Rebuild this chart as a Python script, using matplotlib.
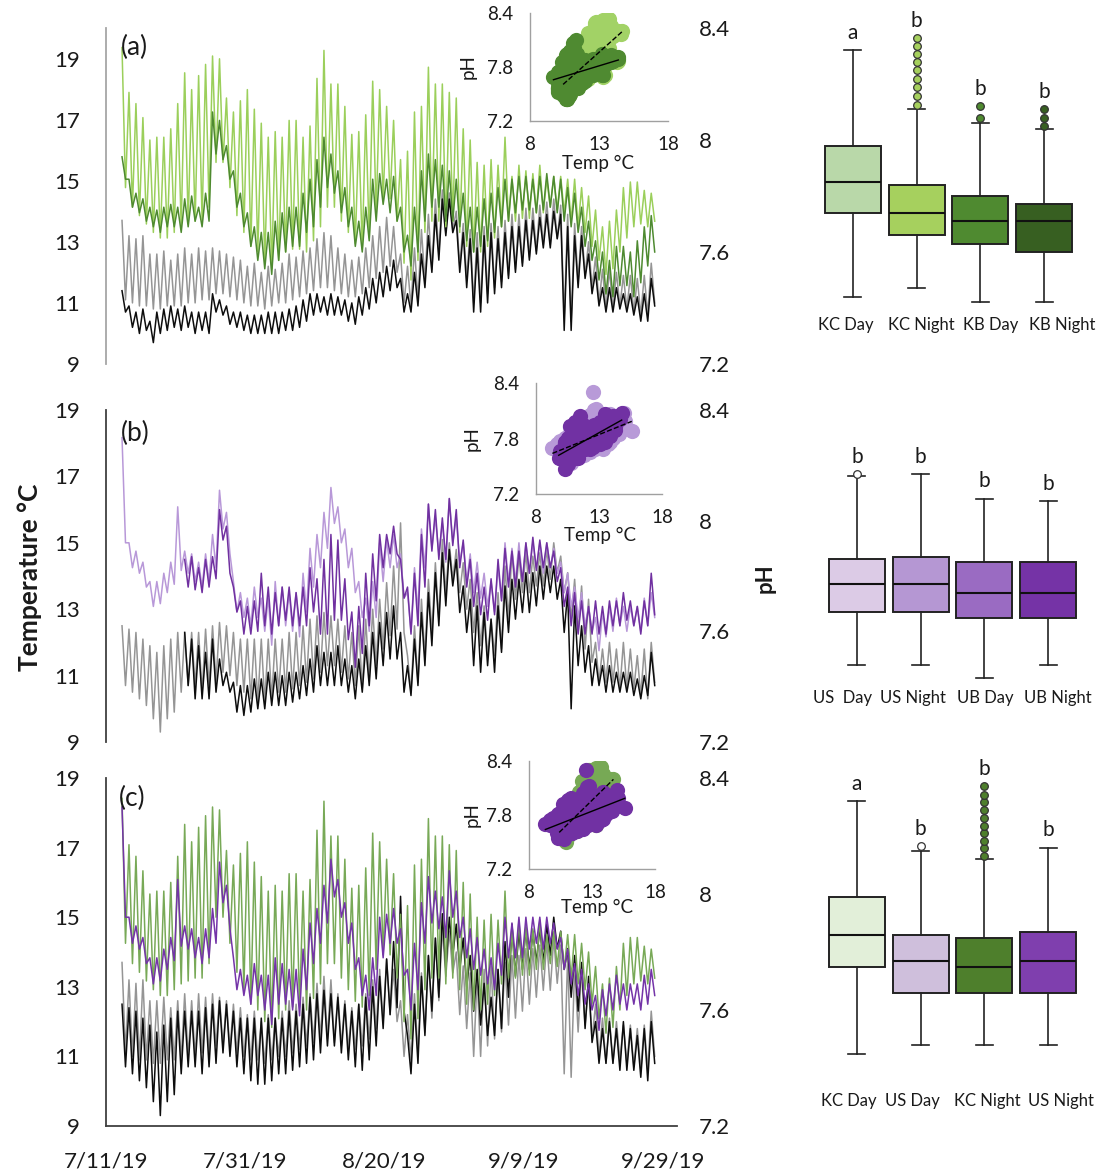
import numpy as np
import pandas as pd
import matplotlib
matplotlib.use('Agg')
import matplotlib.pyplot as plt
import matplotlib.dates as mdates

plt.rcParams['font.family'] = ['Lato', 'DejaVu Sans']

W, H = 1104, 1176

# ---- daily high / low ----
first_day = '2019-07-13'     # KC, KB and US loggers
ub_first_day = '2019-07-22'  # UB logger starts later

kc_ph_hi = [8.33, 8.17, 8.13, 8.08, 8.00, 8.01, 8.01, 8.04, 8.13, 8.24,
            8.18, 8.23, 8.27, 8.30, 8.29, 8.15, 8.10, 8.14, 8.18, 8.11,
            8.06, 8.01, 8.03, 8.01, 8.07, 8.07, 8.01, 8.05, 8.22, 8.32,
            8.20, 8.20, 8.12, 8.02, 8.03, 8.09, 8.21, 8.18, 8.12, 8.07,
            7.93, 7.96, 8.10, 8.12, 8.26, 8.20, 8.20, 8.17, 8.15, 8.04,
            8.00, 7.92, 7.91, 7.93, 7.91, 8.01, 7.87, 7.91, 7.89, 7.88,
            7.91, 7.86, 7.87, 7.87, 7.86, 7.86, 7.83, 7.80, 7.75, 7.69,
            7.71, 7.75, 7.83, 7.85, 7.85, 7.82, 7.81]
kc_ph_lo = [7.83, 7.76, 7.73, 7.70, 7.67, 7.65, 7.65, 7.67, 7.69, 7.70,
            7.71, 7.71, 7.76, 7.92, 7.92, 7.83, 7.73, 7.67, 7.62, 7.60,
            7.56, 7.54, 7.57, 7.60, 7.61, 7.61, 7.60, 7.64, 7.69, 7.76,
            7.76, 7.71, 7.67, 7.63, 7.61, 7.65, 7.74, 7.79, 7.79, 7.71,
            7.56, 7.50, 7.57, 7.67, 7.71, 7.71, 7.69, 7.71, 7.67, 7.62,
            7.60, 7.60, 7.62, 7.65, 7.69, 7.71, 7.71, 7.72, 7.72, 7.74,
            7.74, 7.76, 7.75, 7.74, 7.71, 7.69, 7.67, 7.62, 7.57, 7.52,
            7.54, 7.60, 7.65, 7.69, 7.70, 7.69, 7.71]
kb_ph_hi = [7.94, 7.86, 7.81, 7.79, 7.76, 7.75, 7.76, 7.77, 7.76, 7.79,
            7.80, 7.76, 7.81, 8.10, 8.07, 7.98, 7.89, 7.81, 7.74, 7.69,
            7.67, 7.67, 7.71, 7.74, 7.76, 7.76, 7.81, 7.86, 7.93, 8.01,
            7.95, 7.89, 7.83, 7.76, 7.71, 7.76, 7.86, 7.88, 7.86, 7.87,
            7.76, 7.66, 7.76, 7.89, 7.95, 7.93, 7.91, 7.89, 7.86, 7.81,
            7.76, 7.76, 7.79, 7.81, 7.83, 7.86, 7.86, 7.87, 7.87, 7.86,
            7.87, 7.88, 7.87, 7.86, 7.83, 7.81, 7.76, 7.71, 7.64, 7.60,
            7.57, 7.62, 7.62, 7.60, 7.64, 7.69, 7.73]
kb_ph_lo = [7.86, 7.76, 7.74, 7.71, 7.69, 7.67, 7.69, 7.69, 7.67, 7.69,
            7.71, 7.69, 7.71, 7.95, 7.93, 7.86, 7.76, 7.69, 7.62, 7.57,
            7.54, 7.52, 7.57, 7.60, 7.62, 7.62, 7.67, 7.69, 7.76, 7.83,
            7.81, 7.74, 7.69, 7.62, 7.60, 7.64, 7.71, 7.77, 7.74, 7.71,
            7.60, 7.55, 7.60, 7.71, 7.76, 7.76, 7.71, 7.71, 7.69, 7.64,
            7.60, 7.62, 7.64, 7.67, 7.69, 7.71, 7.74, 7.75, 7.75, 7.74,
            7.75, 7.76, 7.74, 7.71, 7.69, 7.67, 7.62, 7.57, 7.50, 7.45,
            7.44, 7.48, 7.48, 7.44, 7.49, 7.55, 7.60]
us_ph_hi = [8.30, 7.92, 7.89, 7.85, 7.78, 7.78, 7.81, 7.85, 8.05, 7.89,
            7.88, 7.85, 7.88, 7.95, 8.11, 8.03, 7.78, 7.74, 7.72, 7.76,
            7.72, 7.72, 7.78, 7.76, 7.74, 7.74, 7.81, 7.90, 7.95, 8.03,
            8.12, 8.05, 7.97, 7.90, 7.78, 7.72, 7.78, 7.92, 7.93, 7.95,
            7.88, 7.74, 7.83, 7.97, 8.06, 8.01, 7.99, 8.08, 8.01, 7.92,
            7.88, 7.85, 7.81, 7.78, 7.83, 7.92, 7.90, 7.92, 7.92, 7.92,
            7.92, 7.92, 7.90, 7.85, 7.81, 7.76, 7.74, 7.69, 7.65, 7.67,
            7.69, 7.72, 7.69, 7.69, 7.69, 7.72, 7.74]
us_ph_lo = [7.92, 7.83, 7.81, 7.76, 7.69, 7.70, 7.74, 7.77, 7.82, 7.81,
            7.78, 7.76, 7.78, 7.83, 7.97, 7.88, 7.67, 7.65, 7.62, 7.65,
            7.60, 7.55, 7.62, 7.62, 7.60, 7.58, 7.67, 7.76, 7.83, 7.90,
            7.99, 7.92, 7.83, 7.74, 7.65, 7.60, 7.65, 7.78, 7.83, 7.83,
            7.72, 7.60, 7.67, 7.83, 7.90, 7.88, 7.85, 7.92, 7.85, 7.78,
            7.74, 7.72, 7.69, 7.67, 7.72, 7.78, 7.78, 7.78, 7.81, 7.83,
            7.81, 7.83, 7.81, 7.74, 7.69, 7.65, 7.62, 7.60, 7.53, 7.58,
            7.60, 7.62, 7.60, 7.62, 7.60, 7.62, 7.65]
ub_ph_hi = [7.86, 7.87, 7.83, 7.86, 7.87, 8.04, 7.98, 7.76, 7.71, 7.69,
            7.71, 7.81, 7.76, 7.74, 7.76, 7.76, 7.74, 7.76, 7.83, 7.79,
            7.86, 7.95, 7.93, 7.79, 7.67, 7.69, 7.81, 7.88, 7.95, 7.95,
            7.98, 7.86, 7.76, 7.81, 7.95, 8.06, 8.04, 8.01, 8.08, 8.04,
            7.93, 7.86, 7.81, 7.76, 7.79, 7.86, 7.90, 7.89, 7.89, 7.92,
            7.94, 7.93, 7.92, 7.89, 7.83, 7.76, 7.74, 7.71, 7.69, 7.71,
            7.69, 7.71, 7.71, 7.74, 7.71, 7.69, 7.71, 7.81]
ub_ph_lo = [7.76, 7.75, 7.74, 7.76, 7.79, 7.93, 7.81, 7.67, 7.59, 7.59,
            7.60, 7.62, 7.59, 7.62, 7.64, 7.62, 7.62, 7.62, 7.67, 7.59,
            7.59, 7.64, 7.64, 7.57, 7.47, 7.52, 7.62, 7.71, 7.83, 7.88,
            7.88, 7.72, 7.59, 7.62, 7.76, 7.89, 7.86, 7.86, 7.91, 7.83,
            7.76, 7.69, 7.66, 7.64, 7.66, 7.71, 7.76, 7.76, 7.78, 7.81,
            7.82, 7.83, 7.83, 7.78, 7.69, 7.62, 7.59, 7.59, 7.59, 7.59,
            7.59, 7.62, 7.62, 7.64, 7.62, 7.59, 7.62, 7.66]

kc_t_hi = [13.7, 13.2, 13.1, 13.2, 12.6, 12.6, 12.7, 12.4, 12.6, 12.8,
           12.6, 12.8, 12.7, 12.8, 12.7, 12.6, 12.5, 12.4, 12.2, 12.3,
           12.0, 12.2, 12.1, 12.3, 12.6, 12.5, 12.7, 12.8, 13.1, 13.3,
           13.2, 12.8, 12.6, 12.4, 12.5, 12.8, 13.2, 13.5, 13.8, 13.5,
           12.6, 12.2, 12.8, 13.4, 13.9, 14.4, 14.7, 14.6, 14.0, 13.6,
           13.4, 13.3, 13.5, 13.6, 13.5, 13.7, 13.9, 13.9, 14.1, 14.1,
           14.2, 14.3, 14.4, 14.2, 13.9, 13.6, 13.5, 13.0, 12.5, 12.1,
           12.1, 12.0, 11.9, 11.9, 11.8, 11.9, 12.3]
kc_t_lo = [11.1, 11.0, 10.9, 10.9, 10.8, 10.8, 10.9, 10.9, 10.9, 11.0,
           11.0, 11.1, 11.1, 11.3, 11.3, 11.2, 11.1, 11.0, 10.9, 10.9,
           10.8, 10.9, 11.0, 11.0, 11.1, 11.2, 11.3, 11.4, 11.5, 11.5,
           11.4, 11.3, 11.2, 11.2, 11.3, 11.5, 11.8, 12.0, 12.2, 12.0,
           11.0, 10.9, 11.1, 11.7, 12.1, 12.6, 13.3, 13.4, 12.2, 11.8,
           11.0, 11.0, 11.3, 11.5, 11.7, 11.9, 12.1, 12.3, 12.5, 12.7,
           12.9, 12.9, 13.1, 10.5, 10.4, 11.7, 11.9, 11.5, 11.0, 10.8,
           10.8, 10.9, 10.8, 10.7, 10.6, 10.6, 11.0]
kb_t_hi = [11.4, 10.9, 10.7, 10.8, 10.4, 10.7, 10.8, 10.9, 10.8, 10.9,
           10.7, 10.7, 10.7, 11.3, 11.1, 10.9, 10.7, 10.7, 10.6, 10.6,
           10.6, 10.7, 10.7, 10.7, 10.8, 10.9, 11.1, 11.3, 11.3, 11.2,
           11.3, 11.2, 11.1, 11.0, 11.2, 11.5, 11.8, 12.0, 12.2, 12.4,
           11.8, 11.3, 12.0, 12.6, 13.2, 13.9, 14.4, 14.4, 13.7, 13.3,
           13.1, 12.8, 13.2, 13.3, 13.1, 13.3, 13.5, 13.5, 13.7, 13.7,
           13.8, 13.9, 14.0, 13.9, 13.5, 13.2, 13.2, 12.6, 12.0, 11.5,
           11.5, 11.5, 11.3, 11.3, 11.2, 11.3, 11.8]
kb_t_lo = [10.7, 10.2, 10.0, 10.1, 9.7, 10.0, 10.1, 10.2, 10.1, 10.2,
           10.0, 10.1, 10.0, 10.7, 10.6, 10.3, 10.2, 10.1, 10.0, 10.0,
           10.0, 10.0, 10.0, 10.1, 10.1, 10.2, 10.4, 10.6, 10.7, 10.6,
           10.6, 10.6, 10.4, 10.3, 10.6, 10.8, 11.0, 11.2, 11.4, 11.5,
           10.7, 10.7, 10.9, 11.5, 12.0, 12.4, 13.2, 13.3, 12.0, 11.5,
           10.7, 10.7, 11.0, 11.3, 11.5, 11.8, 12.0, 12.2, 12.4, 12.6,
           12.8, 12.8, 13.1, 10.1, 10.1, 11.5, 11.8, 11.3, 10.9, 10.7,
           10.7, 10.8, 10.7, 10.6, 10.4, 10.4, 10.9]
us_t_hi = [12.5, 12.4, 12.3, 12.1, 11.9, 11.7, 11.9, 12.1, 12.3, 12.3,
           12.3, 12.3, 12.4, 12.5, 12.6, 12.5, 12.3, 12.1, 12.1, 12.1,
           12.1, 12.1, 12.1, 12.1, 12.3, 12.3, 12.5, 12.7, 12.8, 12.9,
           12.8, 12.7, 12.5, 12.3, 12.5, 12.7, 13.0, 13.3, 13.8, 14.3,
           15.6, 11.6, 12.5, 13.3, 13.9, 14.4, 15.1, 15.0, 14.8, 14.4,
           13.9, 13.5, 13.1, 12.7, 13.5, 14.3, 14.8, 14.6, 14.7, 14.6,
           14.7, 14.8, 15.0, 14.6, 14.1, 13.9, 13.7, 13.3, 12.0, 11.8,
           12.0, 11.8, 12.0, 11.8, 11.6, 11.8, 12.0]
us_t_lo = [10.7, 10.5, 10.3, 10.1, 9.7, 9.3, 9.7, 9.9, 10.5, 10.7,
           10.7, 10.5, 10.7, 10.8, 11.1, 11.0, 10.7, 10.5, 10.3, 10.2,
           10.2, 10.3, 10.5, 10.5, 10.6, 10.7, 10.8, 10.9, 11.1, 11.3,
           11.3, 11.1, 10.9, 10.7, 10.6, 10.9, 11.3, 11.8, 12.2, 12.4,
           12.3, 10.5, 10.8, 11.6, 12.3, 12.7, 13.5, 13.9, 13.5, 13.0,
           12.3, 11.9, 11.6, 11.6, 11.8, 12.7, 13.3, 13.5, 13.5, 13.7,
           13.7, 13.9, 14.1, 13.5, 12.7, 12.3, 11.8, 11.4, 10.8, 10.8,
           10.8, 10.6, 10.6, 10.6, 10.4, 10.3, 10.8]
ub_t_hi = [12.3, 12.1, 11.9, 11.7, 12.1, 11.5, 11.1, 10.8, 10.7, 10.7,
           10.9, 10.9, 11.1, 11.1, 11.0, 11.1, 11.1, 11.3, 11.5, 11.9,
           11.7, 11.7, 11.9, 11.5, 11.3, 11.5, 11.9, 12.3, 12.6, 12.9,
           13.1, 12.3, 11.3, 12.1, 12.9, 13.5, 14.1, 14.7, 14.8, 14.5,
           13.7, 13.3, 13.1, 12.9, 12.7, 13.1, 13.7, 13.9, 13.9, 14.1,
           14.1, 14.3, 14.3, 14.3, 13.9, 13.5, 13.1, 12.5, 11.9, 11.5,
           11.3, 11.3, 11.1, 11.1, 11.1, 10.9, 11.0, 11.7]
ub_t_lo = [10.7, 10.3, 10.3, 10.3, 10.5, 10.7, 10.5, 9.9, 9.8, 9.9,
           10.0, 10.0, 10.1, 10.1, 10.1, 10.2, 10.3, 10.4, 10.5, 10.7,
           10.7, 10.7, 10.7, 10.5, 10.3, 10.5, 10.7, 10.9, 11.3, 11.5,
           11.5, 10.5, 10.4, 10.7, 11.3, 11.9, 12.5, 13.1, 13.7, 12.9,
           12.3, 11.3, 11.1, 11.3, 11.1, 11.7, 12.3, 12.7, 12.9, 12.9,
           13.1, 13.3, 13.5, 13.3, 12.3, 10.0, 11.3, 11.1, 10.7, 10.7,
           10.5, 10.5, 10.5, 10.5, 10.4, 10.3, 10.4, 10.7]

tick_dates = ['2019-07-11', '2019-07-31', '2019-08-20', '2019-09-09', '2019-09-29']
tick_labels = ['7/11/19', '7/31/19', '8/20/19', '9/9/19', '9/29/19']
x_start, x_end = '2019-07-11', '2019-10-01'

# ---- boxplot summaries (pH) ----
box_a_labels = ['KC Day', 'KC Night', 'KB Day', 'KB Night']
box_a_letters = ['a', 'b', 'b', 'b']
box_a_whislo = [7.44, 7.47, 7.42, 7.42]
box_a_q1 = [7.74, 7.66, 7.63, 7.60]
box_a_med = [7.85, 7.74, 7.71, 7.71]
box_a_q3 = [7.98, 7.84, 7.80, 7.77]
box_a_whishi = [8.32, 8.11, 8.06, 8.04]
box_a_fliers = [[], [8.125, 8.157, 8.189, 8.218, 8.25, 8.279, 8.307, 8.336, 8.364],
                [8.08, 8.12], [8.05, 8.08, 8.11]]

box_b_labels = ['US  Day', 'US Night', 'UB Day', 'UB Night']
box_b_letters = ['b', 'b', 'b', 'b']
box_b_whislo = [7.48, 7.48, 7.43, 7.48]
box_b_q1 = [7.67, 7.67, 7.65, 7.65]
box_b_med = [7.77, 7.77, 7.74, 7.74]
box_b_q3 = [7.86, 7.87, 7.85, 7.85]
box_b_whishi = [8.16, 8.17, 8.08, 8.07]
box_b_fliers = [[8.17], [], [], []]

box_c_labels = ['KC Day', 'US Day', 'KC Night', 'US Night']
box_c_letters = ['a', 'b', 'b', 'b']
box_c_whislo = [7.45, 7.48, 7.48, 7.48]
box_c_q1 = [7.75, 7.66, 7.66, 7.66]
box_c_med = [7.86, 7.77, 7.75, 7.77]
box_c_q3 = [7.99, 7.86, 7.85, 7.87]
box_c_whishi = [8.32, 8.15, 8.12, 8.16]
box_c_fliers = [[], [8.165], [8.131, 8.157, 8.184, 8.209, 8.234, 8.261, 8.29, 8.316, 8.341, 8.372], []]


def px(l, t, r, b):
    # pixel box -> figure fraction
    return [l / W, 1 - b / H, (r - l) / W, (b - t) / H]


def series(first, hi, lo):
    d = mdates.date2num(pd.date_range(first, periods=len(hi), freq='D'))
    t = np.column_stack([d + 0.3, d + 0.8]).ravel()
    v = np.column_stack([hi, lo]).ravel()
    return t, v


fig = plt.figure(figsize=(W / 100, H / 100), dpi=100)


def panel(rect, tmax, spine_col, temps, phs, show_dates):
    ax = fig.add_axes(rect)
    axp = ax.twinx()
    for first, hi, lo, col in temps:
        t, v = series(first, hi, lo)
        ax.plot(t, v, color=col, lw=1.1)
    for first, hi, lo, col in phs:
        t, v = series(first, hi, lo)
        axp.plot(t, v, color=col, lw=1.1)
    ax.set_xlim(mdates.date2num(pd.Timestamp(x_start)), mdates.date2num(pd.Timestamp(x_end)))
    ax.set_ylim(9, tmax)
    ax.set_yticks([9, 11, 13, 15, 17, 19])
    axp.set_ylim(7.2, 8.4)
    axp.set_yticks([7.2, 7.6, 8.0, 8.4])
    axp.set_yticklabels(['7.2', '7.6', '8', '8.4'])
    for s in ax.spines.values():
        s.set_visible(False)
    for s in axp.spines.values():
        s.set_visible(False)
    ax.spines['left'].set_visible(True)
    ax.spines['left'].set_color(spine_col)
    ax.spines['left'].set_linewidth(1.3)
    ax.tick_params(axis='y', length=0, pad=19, labelsize=16, labelcolor='#1a1a1a')
    axp.tick_params(axis='y', length=0, pad=16, labelsize=16, labelcolor='#1a1a1a')
    ax.set_xticks(mdates.date2num(pd.to_datetime(tick_dates)))
    if show_dates:
        ax.spines['bottom'].set_visible(True)
        ax.spines['bottom'].set_color(spine_col)
        ax.spines['bottom'].set_linewidth(1.3)
        ax.set_xticklabels(tick_labels)
        ax.tick_params(axis='x', length=0, pad=18, labelsize=16, labelcolor='#1a1a1a')
    else:
        ax.tick_params(axis='x', length=0, labelbottom=False)
    return ax


def inset(rect, groups, ph_xy, temp_xy):
    ax = fig.add_axes(rect, facecolor='none')
    for thi, tlo, phi, plo, col, ls in groups:
        x = np.column_stack([thi, tlo]).ravel()
        y = np.column_stack([phi, plo]).ravel()
        ax.scatter(x, y, s=120, color=col, linewidths=0, zorder=2)
    for thi, tlo, phi, plo, col, ls in groups:
        x = np.column_stack([thi, tlo]).ravel()
        y = np.column_stack([phi, plo]).ravel()
        k, b = np.polyfit(x, y, 1)
        xx = np.array([x.min(), x.max()])
        ax.plot(xx, k * xx + b, color='black', lw=1.0, ls=ls, zorder=3)
    ax.set_xlim(8, 18)
    ax.set_ylim(7.2, 8.4)
    ax.set_xticks([8, 13, 18])
    ax.set_yticks([7.2, 7.8, 8.4])
    ax.spines['top'].set_visible(False)
    ax.spines['right'].set_visible(False)
    for s in ('left', 'bottom'):
        ax.spines[s].set_color('#a0a0a0')
        ax.spines[s].set_linewidth(1.0)
    ax.tick_params(length=0, labelsize=13.5, labelcolor='#1a1a1a')
    ax.tick_params(axis='x', pad=11)
    ax.tick_params(axis='y', pad=12)
    ax.text(ph_xy[0], ph_xy[1], 'pH', transform=ax.transAxes, rotation=90,
            ha='center', va='center', fontsize=13.5, color='#1a1a1a')
    ax.text(temp_xy[0], temp_xy[1], 'Temp \u00b0C', transform=ax.transAxes,
            ha='center', va='center', fontsize=13.5, color='#1a1a1a')


def boxes(rect, labels, letters, whislo, q1, med, q3, whishi, fliers,
          colors, flier_faces, label_px, label_y):
    ax = fig.add_axes(rect, facecolor='none')
    stats = []
    for i in range(len(labels)):
        stats.append(dict(label=labels[i], whislo=whislo[i], q1=q1[i], med=med[i],
                          q3=q3[i], whishi=whishi[i], fliers=fliers[i]))
    pos = np.arange(1, len(labels) + 1)
    bp = ax.bxp(stats, positions=pos, widths=0.88, capwidths=0.27, patch_artist=True,
                boxprops=dict(edgecolor='#222222', linewidth=1.4),
                whiskerprops=dict(color='#222222', linewidth=1.2),
                capprops=dict(color='#222222', linewidth=1.2),
                medianprops=dict(color='#111111', linewidth=1.5),
                flierprops=dict(marker='o', markersize=5.5, markeredgecolor='#333333',
                                markeredgewidth=0.9))
    for patch, c in zip(bp['boxes'], colors):
        patch.set_facecolor(c)
    for fl, c in zip(bp['fliers'], flier_faces):
        fl.set_markerfacecolor(c)
    ax.set_xlim(0.5, len(labels) + 0.5)
    ax.set_ylim(7.2, 8.4)
    ax.axis('off')
    # category labels sit a little wider apart than the boxes, as in the original
    for x, lab in zip(label_px, labels):
        fig.text(x / W, 1 - label_y / H, lab, ha='center', va='center',
                 fontsize=12, color='#1a1a1a')
    for p, let, hi, fl in zip(pos, letters, whishi, fliers):
        top = max([hi] + list(fl))
        ax.text(p, top + 0.04, let, ha='center', va='baseline', fontsize=15,
                color='#1a1a1a')


# ---- panel (a): KC / KB ----
panel(px(106, 28, 677, 364), 20, '#a6a6a6',
      [(first_day, kc_t_hi, kc_t_lo, '#959595'), (first_day, kb_t_hi, kb_t_lo, '#0d0d0d')],
      [(first_day, kc_ph_hi, kc_ph_lo, '#9bcf5b'), (first_day, kb_ph_hi, kb_ph_lo, '#4e8a30')],
      False)
inset(px(530, 13, 668, 121),
      [(kc_t_hi, kc_t_lo, kc_ph_hi, kc_ph_lo, '#a2d266', '--'),
       (kb_t_hi, kb_t_lo, kb_ph_hi, kb_ph_lo, '#4f8a31', '-')],
      (-0.45, 0.5), (0.49, -0.39))
boxes(px(821, 28, 1076, 364), box_a_labels, box_a_letters, box_a_whislo, box_a_q1,
      box_a_med, box_a_q3, box_a_whishi, box_a_fliers,
      ['#b9d8a9', '#a6d05e', '#4f8a30', '#375f21'],
      ['none', '#a6d05e', '#4f8a30', '#375f21'],
      [846, 921, 991, 1062], 325)

# ---- panel (b): US / UB ----
panel(px(106, 410, 677, 742), 19, '#404040',
      [(first_day, us_t_hi, us_t_lo, '#959595'), (ub_first_day, ub_t_hi, ub_t_lo, '#0d0d0d')],
      [(first_day, us_ph_hi, us_ph_lo, '#b898d8'), (ub_first_day, ub_ph_hi, ub_ph_lo, '#7030a0')],
      False)
inset(px(536, 383, 662, 494),
      [(us_t_hi, us_t_lo, us_ph_hi, us_ph_lo, '#b89ad8', '--'),
       (ub_t_hi, ub_t_lo, ub_ph_hi, ub_ph_lo, '#7131a3', '-')],
      (-0.51, 0.5), (0.51, -0.37))
boxes(px(825, 410, 1080, 742), box_b_labels, box_b_letters, box_b_whislo, box_b_q1,
      box_b_med, box_b_q3, box_b_whishi, box_b_fliers,
      ['#dccbe6', '#b597d3', '#9a6bc2', '#7533a6'],
      ['white', 'none', 'none', 'none'],
      [843, 913, 985, 1058], 698)

# ---- panel (c): KC / US ----
panel(px(106, 778, 677, 1126), 19, '#404040',
      [(first_day, kc_t_hi, kc_t_lo, '#959595'), (first_day, us_t_hi, us_t_lo, '#0d0d0d')],
      [(first_day, kc_ph_hi, kc_ph_lo, '#78a957'), (first_day, us_ph_hi, us_ph_lo, '#7434a8')],
      True)
inset(px(529, 761, 655, 869),
      [(kc_t_hi, kc_t_lo, kc_ph_hi, kc_ph_lo, '#77a955', '--'),
       (us_t_hi, us_t_lo, us_ph_hi, us_ph_lo, '#7131a3', '-')],
      (-0.45, 0.5), (0.54, -0.36))
boxes(px(825, 778, 1080, 1126), box_c_labels, box_c_letters, box_c_whislo, box_c_q1,
      box_c_med, box_c_q3, box_c_whishi, box_c_fliers,
      ['#e2efd9', '#cfbfdc', '#4e7f2c', '#7f3fae'],
      ['none', 'white', '#4e7f2c', 'none'],
      [849, 912, 987, 1061], 1101)

# panel letters and shared axis titles
fig.text(121 / W, 1 - 47 / H, '(a)', fontsize=19, va='center', color='#1a1a1a')
fig.text(121 / W, 1 - 433 / H, '(b)', fontsize=19, va='center', color='#1a1a1a')
fig.text(119 / W, 1 - 798 / H, '(c)', fontsize=19, va='center', color='#1a1a1a')
fig.text(30 / W, 1 - 577 / H, 'Temperature \u00b0C', rotation=90, fontsize=19,
         fontweight='bold', ha='center', va='center', color='#1a1a1a')
fig.text(765 / W, 1 - 578 / H, 'pH', rotation=90, fontsize=16,
         fontweight='bold', ha='center', va='center', color='#1a1a1a')

fig.savefig('out.png', dpi=100)
